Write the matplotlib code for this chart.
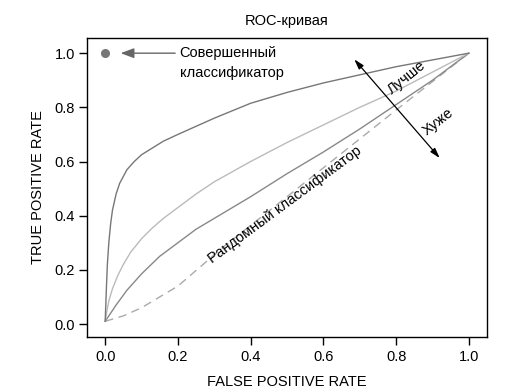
import matplotlib
matplotlib.use("Agg")
import matplotlib.pyplot as plt
import numpy as np

plt.rcParams['font.family'] = ['Liberation Sans', 'DejaVu Sans']

# Data
best_x = [0, 0.003, 0.006, 0.01, 0.015, 0.02, 0.03, 0.04, 0.06, 0.08, 0.1, 0.13, 0.16, 0.2, 0.25, 0.3, 0.4, 0.5, 0.6, 0.7, 0.8, 0.9, 1.0]
best_y = [0.01, 0.12, 0.22, 0.3, 0.37, 0.42, 0.48, 0.52, 0.57, 0.6, 0.625, 0.65, 0.675, 0.70, 0.73, 0.76, 0.815, 0.855, 0.89, 0.92, 0.95, 0.975, 1.0]

mid_x = [0, 0.005, 0.01, 0.02, 0.035, 0.05, 0.07, 0.1, 0.13, 0.16, 0.2, 0.25, 0.3, 0.4, 0.5, 0.6, 0.7, 0.8, 0.9, 1.0]
mid_y = [0.01, 0.05, 0.085, 0.13, 0.18, 0.22, 0.265, 0.315, 0.355, 0.39, 0.43, 0.48, 0.525, 0.6, 0.67, 0.735, 0.8, 0.86, 0.93, 1.0]

low_x = [0, 0.015, 0.03, 0.06, 0.1, 0.15, 0.2, 0.25, 0.3, 0.4, 0.5, 0.6, 0.7, 0.8, 0.9, 1.0]
low_y = [0.01, 0.04, 0.07, 0.125, 0.185, 0.25, 0.3, 0.35, 0.39, 0.47, 0.555, 0.635, 0.72, 0.81, 0.9, 1.0]

rand_x = [0, 0.05, 0.1, 0.2, 0.33, 0.5, 0.65, 0.8, 1.0]
rand_y = [0.01, 0.03, 0.06, 0.14, 0.29, 0.47, 0.63, 0.79, 1.0]

perfect = (0.0, 1.0)
ticks = [0.0, 0.2, 0.4, 0.6, 0.8, 1.0]
tick_labels = ["0.0", "0.2", "0.4", "0.6", "0.8", "1.0"]

fig = plt.figure(figsize=(5.32, 3.92), dpi=100)
ax = fig.add_axes([87/532, 1-337/392, 400/532, 299/392])

ax.plot(rand_x, rand_y, color='#aaaaaa', lw=1.0, ls=(0, (6, 4)))
ax.plot(low_x, low_y, color='#888888', lw=1.0)
ax.plot(mid_x, mid_y, color='#bbbbbb', lw=1.0)
ax.plot(best_x, best_y, color='#777777', lw=1.0)
ax.plot([perfect[0]], [perfect[1]], 'o', color='#777777', ms=5.5)

ax.set_xlim(-0.05, 1.05)
ax.set_ylim(-0.048, 1.056)
ax.set_xticks(ticks)
ax.set_xticklabels(tick_labels)
ax.set_yticks(ticks)
ax.set_yticklabels(tick_labels)
ax.tick_params(direction='out', length=6, width=1, labelsize=10.5, colors='black')
ax.tick_params(axis='y', pad=2.5)
for s in ax.spines.values():
    s.set_linewidth(1.0)

ax.set_title("ROC-кривая", fontsize=10.5, pad=9)
ax.set_xlabel("FALSE POSITIVE RATE", fontsize=10.5, labelpad=8)
ax.set_ylabel("TRUE POSITIVE RATE", fontsize=10.5, labelpad=7)

# Perfect classifier arrow
ax.annotate("", xy=(0.035, 1.0), xytext=(0.2, 1.0),
            arrowprops=dict(arrowstyle='-|>,head_length=0.8,head_width=0.3', color='#666666', lw=1.0))
ax.text(0.205, 1.0, "Совершенный", fontsize=10.5, ha='left', va='center')
ax.text(0.205, 0.925, "классификатор", fontsize=10.5, ha='left', va='center')

# Better / worse arrow
ax.annotate("", xy=(0.68, 0.985), xytext=(0.925, 0.605),
            arrowprops=dict(arrowstyle='<|-|>,head_length=0.6,head_width=0.18', color='black', lw=0.9))
ax.text(0.83, 0.91, "Лучше", fontsize=10.5, rotation=39, ha='center', va='center')
ax.text(0.915, 0.745, "Хуже", fontsize=10.5, rotation=38, ha='center', va='center')

ax.text(0.494, 0.44, "Рандомный классификатор", fontsize=10.5, rotation=36.5,
        ha='center', va='center', rotation_mode='anchor')

fig.savefig("out.png", dpi=100)
